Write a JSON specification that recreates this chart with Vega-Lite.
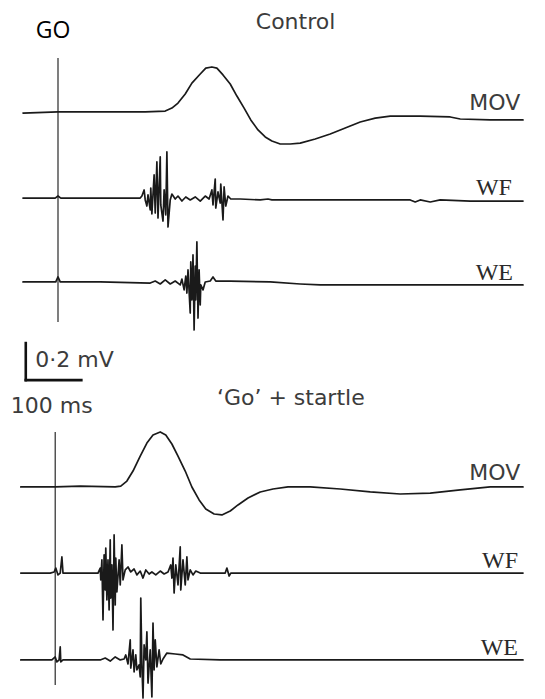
{
  "$schema": "https://vega.github.io/schema/vega-lite/v6.json",
  "width": 545,
  "height": 699,
  "autosize": {"type": "fit", "contains": "padding"},
  "padding": 0,
  "background": "white",
  "config": {"view": {"stroke": null}},
  "datasets": {
    "traces": [
      {"trace": "Control MOV", "t": -63, "mV": 3.164},
      {"trace": "Control MOV", "t": 0, "mV": 3.170},
      {"trace": "Control MOV", "t": 76, "mV": 3.170},
      {"trace": "Control MOV", "t": 157, "mV": 3.170},
      {"trace": "Control MOV", "t": 193, "mV": 3.175},
      {"trace": "Control MOV", "t": 205, "mV": 3.191},
      {"trace": "Control MOV", "t": 216, "mV": 3.218},
      {"trace": "Control MOV", "t": 229, "mV": 3.267},
      {"trace": "Control MOV", "t": 241, "mV": 3.326},
      {"trace": "Control MOV", "t": 256, "mV": 3.375},
      {"trace": "Control MOV", "t": 266, "mV": 3.407},
      {"trace": "Control MOV", "t": 277, "mV": 3.413},
      {"trace": "Control MOV", "t": 286, "mV": 3.407},
      {"trace": "Control MOV", "t": 297, "mV": 3.370},
      {"trace": "Control MOV", "t": 310, "mV": 3.321},
      {"trace": "Control MOV", "t": 322, "mV": 3.256},
      {"trace": "Control MOV", "t": 335, "mV": 3.191},
      {"trace": "Control MOV", "t": 347, "mV": 3.127},
      {"trace": "Control MOV", "t": 360, "mV": 3.073},
      {"trace": "Control MOV", "t": 373, "mV": 3.035},
      {"trace": "Control MOV", "t": 385, "mV": 3.013},
      {"trace": "Control MOV", "t": 400, "mV": 2.997},
      {"trace": "Control MOV", "t": 418, "mV": 2.997},
      {"trace": "Control MOV", "t": 436, "mV": 3.002},
      {"trace": "Control MOV", "t": 463, "mV": 3.024},
      {"trace": "Control MOV", "t": 490, "mV": 3.051},
      {"trace": "Control MOV", "t": 517, "mV": 3.083},
      {"trace": "Control MOV", "t": 544, "mV": 3.116},
      {"trace": "Control MOV", "t": 571, "mV": 3.137},
      {"trace": "Control MOV", "t": 598, "mV": 3.148},
      {"trace": "Control MOV", "t": 652, "mV": 3.148},
      {"trace": "Control MOV", "t": 706, "mV": 3.143},
      {"trace": "Control MOV", "t": 724, "mV": 3.132},
      {"trace": "Control MOV", "t": 778, "mV": 3.127},
      {"trace": "Control MOV", "t": 837, "mV": 3.127},

      {"trace": "Control WF", "t": -63, "mV": 2.705},
      {"trace": "Control WF", "t": -5, "mV": 2.705},
      {"trace": "Control WF", "t": 0, "mV": 2.716},
      {"trace": "Control WF", "t": 5, "mV": 2.705},
      {"trace": "Control WF", "t": 76, "mV": 2.705},
      {"trace": "Control WF", "t": 148, "mV": 2.705},
      {"trace": "Control WF", "t": 151, "mV": 2.716},
      {"trace": "Control WF", "t": 155, "mV": 2.749},
      {"trace": "Control WF", "t": 157, "mV": 2.695},
      {"trace": "Control WF", "t": 160, "mV": 2.662},
      {"trace": "Control WF", "t": 162, "mV": 2.722},
      {"trace": "Control WF", "t": 166, "mV": 2.641},
      {"trace": "Control WF", "t": 167, "mV": 2.759},
      {"trace": "Control WF", "t": 169, "mV": 2.619},
      {"trace": "Control WF", "t": 173, "mV": 2.830},
      {"trace": "Control WF", "t": 175, "mV": 2.624},
      {"trace": "Control WF", "t": 178, "mV": 2.900},
      {"trace": "Control WF", "t": 180, "mV": 2.597},
      {"trace": "Control WF", "t": 184, "mV": 2.927},
      {"trace": "Control WF", "t": 185, "mV": 2.668},
      {"trace": "Control WF", "t": 189, "mV": 2.581},
      {"trace": "Control WF", "t": 191, "mV": 2.749},
      {"trace": "Control WF", "t": 194, "mV": 2.614},
      {"trace": "Control WF", "t": 196, "mV": 2.954},
      {"trace": "Control WF", "t": 198, "mV": 2.549},
      {"trace": "Control WF", "t": 202, "mV": 2.695},
      {"trace": "Control WF", "t": 205, "mV": 2.727},
      {"trace": "Control WF", "t": 211, "mV": 2.700},
      {"trace": "Control WF", "t": 216, "mV": 2.716},
      {"trace": "Control WF", "t": 223, "mV": 2.689},
      {"trace": "Control WF", "t": 230, "mV": 2.711},
      {"trace": "Control WF", "t": 238, "mV": 2.695},
      {"trace": "Control WF", "t": 247, "mV": 2.711},
      {"trace": "Control WF", "t": 256, "mV": 2.689},
      {"trace": "Control WF", "t": 265, "mV": 2.716},
      {"trace": "Control WF", "t": 272, "mV": 2.700},
      {"trace": "Control WF", "t": 277, "mV": 2.749},
      {"trace": "Control WF", "t": 279, "mV": 2.668},
      {"trace": "Control WF", "t": 283, "mV": 2.808},
      {"trace": "Control WF", "t": 284, "mV": 2.651},
      {"trace": "Control WF", "t": 288, "mV": 2.738},
      {"trace": "Control WF", "t": 292, "mV": 2.678},
      {"trace": "Control WF", "t": 293, "mV": 2.781},
      {"trace": "Control WF", "t": 297, "mV": 2.587},
      {"trace": "Control WF", "t": 299, "mV": 2.765},
      {"trace": "Control WF", "t": 302, "mV": 2.662},
      {"trace": "Control WF", "t": 306, "mV": 2.716},
      {"trace": "Control WF", "t": 311, "mV": 2.700},
      {"trace": "Control WF", "t": 328, "mV": 2.700},
      {"trace": "Control WF", "t": 364, "mV": 2.695},
      {"trace": "Control WF", "t": 378, "mV": 2.700},
      {"trace": "Control WF", "t": 385, "mV": 2.695},
      {"trace": "Control WF", "t": 418, "mV": 2.695},
      {"trace": "Control WF", "t": 508, "mV": 2.695},
      {"trace": "Control WF", "t": 634, "mV": 2.695},
      {"trace": "Control WF", "t": 643, "mV": 2.684},
      {"trace": "Control WF", "t": 652, "mV": 2.695},
      {"trace": "Control WF", "t": 670, "mV": 2.684},
      {"trace": "Control WF", "t": 688, "mV": 2.695},
      {"trace": "Control WF", "t": 742, "mV": 2.689},
      {"trace": "Control WF", "t": 837, "mV": 2.689},

      {"trace": "Control WE", "t": -63, "mV": 2.252},
      {"trace": "Control WE", "t": -4, "mV": 2.252},
      {"trace": "Control WE", "t": 0, "mV": 2.279},
      {"trace": "Control WE", "t": 4, "mV": 2.252},
      {"trace": "Control WE", "t": 76, "mV": 2.252},
      {"trace": "Control WE", "t": 166, "mV": 2.246},
      {"trace": "Control WE", "t": 175, "mV": 2.257},
      {"trace": "Control WE", "t": 184, "mV": 2.241},
      {"trace": "Control WE", "t": 193, "mV": 2.263},
      {"trace": "Control WE", "t": 202, "mV": 2.241},
      {"trace": "Control WE", "t": 211, "mV": 2.257},
      {"trace": "Control WE", "t": 220, "mV": 2.236},
      {"trace": "Control WE", "t": 223, "mV": 2.268},
      {"trace": "Control WE", "t": 227, "mV": 2.209},
      {"trace": "Control WE", "t": 230, "mV": 2.284},
      {"trace": "Control WE", "t": 232, "mV": 2.192},
      {"trace": "Control WE", "t": 234, "mV": 2.317},
      {"trace": "Control WE", "t": 238, "mV": 2.084},
      {"trace": "Control WE", "t": 239, "mV": 2.360},
      {"trace": "Control WE", "t": 241, "mV": 2.155},
      {"trace": "Control WE", "t": 243, "mV": 2.398},
      {"trace": "Control WE", "t": 245, "mV": 1.993},
      {"trace": "Control WE", "t": 247, "mV": 2.338},
      {"trace": "Control WE", "t": 248, "mV": 2.155},
      {"trace": "Control WE", "t": 250, "mV": 2.468},
      {"trace": "Control WE", "t": 252, "mV": 2.057},
      {"trace": "Control WE", "t": 254, "mV": 2.317},
      {"trace": "Control WE", "t": 256, "mV": 2.128},
      {"trace": "Control WE", "t": 257, "mV": 2.236},
      {"trace": "Control WE", "t": 261, "mV": 2.209},
      {"trace": "Control WE", "t": 265, "mV": 2.252},
      {"trace": "Control WE", "t": 274, "mV": 2.257},
      {"trace": "Control WE", "t": 279, "mV": 2.279},
      {"trace": "Control WE", "t": 284, "mV": 2.257},
      {"trace": "Control WE", "t": 310, "mV": 2.257},
      {"trace": "Control WE", "t": 382, "mV": 2.252},
      {"trace": "Control WE", "t": 436, "mV": 2.241},
      {"trace": "Control WE", "t": 472, "mV": 2.236},
      {"trace": "Control WE", "t": 837, "mV": 2.236},

      {"trace": "Startle MOV", "t": -67, "mV": 1.145},
      {"trace": "Startle MOV", "t": -5, "mV": 1.145},
      {"trace": "Startle MOV", "t": 40, "mV": 1.150},
      {"trace": "Startle MOV", "t": 103, "mV": 1.145},
      {"trace": "Startle MOV", "t": 113, "mV": 1.150},
      {"trace": "Startle MOV", "t": 124, "mV": 1.177},
      {"trace": "Startle MOV", "t": 135, "mV": 1.231},
      {"trace": "Startle MOV", "t": 148, "mV": 1.312},
      {"trace": "Startle MOV", "t": 160, "mV": 1.382},
      {"trace": "Startle MOV", "t": 171, "mV": 1.426},
      {"trace": "Startle MOV", "t": 184, "mV": 1.442},
      {"trace": "Startle MOV", "t": 194, "mV": 1.426},
      {"trace": "Startle MOV", "t": 205, "mV": 1.377},
      {"trace": "Startle MOV", "t": 216, "mV": 1.312},
      {"trace": "Startle MOV", "t": 229, "mV": 1.231},
      {"trace": "Startle MOV", "t": 241, "mV": 1.145},
      {"trace": "Startle MOV", "t": 254, "mV": 1.075},
      {"trace": "Startle MOV", "t": 266, "mV": 1.026},
      {"trace": "Startle MOV", "t": 281, "mV": 0.999},
      {"trace": "Startle MOV", "t": 295, "mV": 0.994},
      {"trace": "Startle MOV", "t": 310, "mV": 1.015},
      {"trace": "Startle MOV", "t": 324, "mV": 1.048},
      {"trace": "Startle MOV", "t": 342, "mV": 1.085},
      {"trace": "Startle MOV", "t": 364, "mV": 1.118},
      {"trace": "Startle MOV", "t": 387, "mV": 1.134},
      {"trace": "Startle MOV", "t": 414, "mV": 1.145},
      {"trace": "Startle MOV", "t": 454, "mV": 1.145},
      {"trace": "Startle MOV", "t": 508, "mV": 1.134},
      {"trace": "Startle MOV", "t": 562, "mV": 1.118},
      {"trace": "Startle MOV", "t": 616, "mV": 1.107},
      {"trace": "Startle MOV", "t": 670, "mV": 1.112},
      {"trace": "Startle MOV", "t": 724, "mV": 1.129},
      {"trace": "Startle MOV", "t": 778, "mV": 1.145},
      {"trace": "Startle MOV", "t": 837, "mV": 1.145},

      {"trace": "Startle WF", "t": -67, "mV": 0.680},
      {"trace": "Startle WF", "t": -14, "mV": 0.680},
      {"trace": "Startle WF", "t": -7, "mV": 0.686},
      {"trace": "Startle WF", "t": -4, "mV": 0.707},
      {"trace": "Startle WF", "t": 0, "mV": 0.670},
      {"trace": "Startle WF", "t": 4, "mV": 0.680},
      {"trace": "Startle WF", "t": 7, "mV": 0.767},
      {"trace": "Startle WF", "t": 9, "mV": 0.680},
      {"trace": "Startle WF", "t": 14, "mV": 0.680},
      {"trace": "Startle WF", "t": 72, "mV": 0.680},
      {"trace": "Startle WF", "t": 76, "mV": 0.707},
      {"trace": "Startle WF", "t": 77, "mV": 0.643},
      {"trace": "Startle WF", "t": 79, "mV": 0.751},
      {"trace": "Startle WF", "t": 81, "mV": 0.427},
      {"trace": "Startle WF", "t": 83, "mV": 0.778},
      {"trace": "Startle WF", "t": 85, "mV": 0.589},
      {"trace": "Startle WF", "t": 86, "mV": 0.815},
      {"trace": "Startle WF", "t": 88, "mV": 0.535},
      {"trace": "Startle WF", "t": 90, "mV": 0.751},
      {"trace": "Startle WF", "t": 92, "mV": 0.481},
      {"trace": "Startle WF", "t": 94, "mV": 0.859},
      {"trace": "Startle WF", "t": 95, "mV": 0.545},
      {"trace": "Startle WF", "t": 97, "mV": 0.724},
      {"trace": "Startle WF", "t": 99, "mV": 0.373},
      {"trace": "Startle WF", "t": 101, "mV": 0.886},
      {"trace": "Startle WF", "t": 103, "mV": 0.508},
      {"trace": "Startle WF", "t": 104, "mV": 0.761},
      {"trace": "Startle WF", "t": 106, "mV": 0.578},
      {"trace": "Startle WF", "t": 110, "mV": 0.751},
      {"trace": "Startle WF", "t": 112, "mV": 0.616},
      {"trace": "Startle WF", "t": 115, "mV": 0.832},
      {"trace": "Startle WF", "t": 117, "mV": 0.643},
      {"trace": "Startle WF", "t": 121, "mV": 0.697},
      {"trace": "Startle WF", "t": 126, "mV": 0.713},
      {"trace": "Startle WF", "t": 131, "mV": 0.686},
      {"trace": "Startle WF", "t": 137, "mV": 0.702},
      {"trace": "Startle WF", "t": 142, "mV": 0.670},
      {"trace": "Startle WF", "t": 148, "mV": 0.691},
      {"trace": "Startle WF", "t": 153, "mV": 0.653},
      {"trace": "Startle WF", "t": 158, "mV": 0.697},
      {"trace": "Startle WF", "t": 164, "mV": 0.675},
      {"trace": "Startle WF", "t": 169, "mV": 0.686},
      {"trace": "Startle WF", "t": 176, "mV": 0.670},
      {"trace": "Startle WF", "t": 184, "mV": 0.691},
      {"trace": "Startle WF", "t": 191, "mV": 0.675},
      {"trace": "Startle WF", "t": 198, "mV": 0.686},
      {"trace": "Startle WF", "t": 203, "mV": 0.724},
      {"trace": "Startle WF", "t": 205, "mV": 0.653},
      {"trace": "Startle WF", "t": 207, "mV": 0.761},
      {"trace": "Startle WF", "t": 209, "mV": 0.572},
      {"trace": "Startle WF", "t": 212, "mV": 0.724},
      {"trace": "Startle WF", "t": 216, "mV": 0.616},
      {"trace": "Startle WF", "t": 220, "mV": 0.821},
      {"trace": "Startle WF", "t": 221, "mV": 0.589},
      {"trace": "Startle WF", "t": 225, "mV": 0.751},
      {"trace": "Startle WF", "t": 229, "mV": 0.616},
      {"trace": "Startle WF", "t": 232, "mV": 0.767},
      {"trace": "Startle WF", "t": 234, "mV": 0.643},
      {"trace": "Startle WF", "t": 238, "mV": 0.697},
      {"trace": "Startle WF", "t": 243, "mV": 0.670},
      {"trace": "Startle WF", "t": 248, "mV": 0.691},
      {"trace": "Startle WF", "t": 256, "mV": 0.680},
      {"trace": "Startle WF", "t": 301, "mV": 0.680},
      {"trace": "Startle WF", "t": 304, "mV": 0.707},
      {"trace": "Startle WF", "t": 308, "mV": 0.664},
      {"trace": "Startle WF", "t": 311, "mV": 0.680},
      {"trace": "Startle WF", "t": 837, "mV": 0.680},

      {"trace": "Startle WE", "t": -67, "mV": 0.211},
      {"trace": "Startle WE", "t": -11, "mV": 0.211},
      {"trace": "Startle WE", "t": -5, "mV": 0.227},
      {"trace": "Startle WE", "t": -2, "mV": 0.200},
      {"trace": "Startle WE", "t": 2, "mV": 0.211},
      {"trace": "Startle WE", "t": 4, "mV": 0.281},
      {"trace": "Startle WE", "t": 5, "mV": 0.200},
      {"trace": "Startle WE", "t": 9, "mV": 0.211},
      {"trace": "Startle WE", "t": 76, "mV": 0.211},
      {"trace": "Startle WE", "t": 85, "mV": 0.221},
      {"trace": "Startle WE", "t": 94, "mV": 0.205},
      {"trace": "Startle WE", "t": 103, "mV": 0.227},
      {"trace": "Startle WE", "t": 112, "mV": 0.211},
      {"trace": "Startle WE", "t": 119, "mV": 0.216},
      {"trace": "Startle WE", "t": 122, "mV": 0.238},
      {"trace": "Startle WE", "t": 126, "mV": 0.189},
      {"trace": "Startle WE", "t": 130, "mV": 0.319},
      {"trace": "Startle WE", "t": 131, "mV": 0.167},
      {"trace": "Startle WE", "t": 135, "mV": 0.265},
      {"trace": "Startle WE", "t": 137, "mV": 0.146},
      {"trace": "Startle WE", "t": 140, "mV": 0.238},
      {"trace": "Startle WE", "t": 142, "mV": 0.157},
      {"trace": "Startle WE", "t": 146, "mV": 0.184},
      {"trace": "Startle WE", "t": 148, "mV": 0.119},
      {"trace": "Startle WE", "t": 149, "mV": 0.545},
      {"trace": "Startle WE", "t": 151, "mV": 0.184},
      {"trace": "Startle WE", "t": 153, "mV": 0.005},
      {"trace": "Startle WE", "t": 155, "mV": 0.292},
      {"trace": "Startle WE", "t": 158, "mV": 0.211},
      {"trace": "Startle WE", "t": 160, "mV": 0.362},
      {"trace": "Startle WE", "t": 162, "mV": 0.086},
      {"trace": "Startle WE", "t": 166, "mV": 0.265},
      {"trace": "Startle WE", "t": 169, "mV": 0.011},
      {"trace": "Startle WE", "t": 171, "mV": 0.410},
      {"trace": "Startle WE", "t": 173, "mV": 0.157},
      {"trace": "Startle WE", "t": 175, "mV": 0.319},
      {"trace": "Startle WE", "t": 178, "mV": 0.173},
      {"trace": "Startle WE", "t": 182, "mV": 0.265},
      {"trace": "Startle WE", "t": 185, "mV": 0.189},
      {"trace": "Startle WE", "t": 189, "mV": 0.216},
      {"trace": "Startle WE", "t": 196, "mV": 0.248},
      {"trace": "Startle WE", "t": 211, "mV": 0.243},
      {"trace": "Startle WE", "t": 225, "mV": 0.238},
      {"trace": "Startle WE", "t": 238, "mV": 0.216},
      {"trace": "Startle WE", "t": 292, "mV": 0.211},
      {"trace": "Startle WE", "t": 837, "mV": 0.211}
    ],
    "go_markers": [
      {"panel": "Control", "t": 0, "mV": 3.461, "mV2": 2.036},
      {"panel": "Startle", "t": -5, "mV": 1.442, "mV2": 0.076}
    ],
    "scale_bar": [
      {"part": "voltage", "t": -58, "t2": -58, "mV": 1.722, "mV2": 1.922},
      {"part": "time", "t": -58, "t2": 42, "mV": 1.722, "mV2": 1.722}
    ],
    "notes": [
      {"kind": "go", "text": "GO", "t": -40, "mV": 3.569},
      {"kind": "title", "text": "Control", "t": 356, "mV": 3.618},
      {"kind": "title", "text": "‘Go’ + startle", "t": 286, "mV": 1.588},
      {"kind": "scale", "text": "0·2 mV", "t": -41, "mV": 1.793},
      {"kind": "scale", "text": "100 ms", "t": -85, "mV": 1.544},
      {"kind": "lead", "text": "MOV", "t": 832, "mV": 3.181},
      {"kind": "lead", "text": "MOV", "t": 832, "mV": 1.183},
      {"kind": "muscle", "text": "WF", "t": 817, "mV": 2.722},
      {"kind": "muscle", "text": "WE", "t": 819, "mV": 2.263},
      {"kind": "muscle", "text": "WF", "t": 828, "mV": 0.707},
      {"kind": "muscle", "text": "WE", "t": 828, "mV": 0.238}
    ]
  },
  "encoding": {
    "x": {"field": "t", "type": "quantitative", "scale": {"domain": [-104.4, 876.6], "nice": false, "zero": false}, "axis": null},
    "y": {"field": "mV", "type": "quantitative", "scale": {"domain": [0, 3.7746], "nice": false, "zero": false}, "axis": null}
  },
  "layer": [
    {
      "data": {"name": "go_markers"},
      "mark": {"type": "rule", "color": "#3a3a3a", "strokeWidth": 1.3},
      "encoding": {"y2": {"field": "mV2"}}
    },
    {
      "data": {"name": "traces"},
      "mark": {"type": "line", "color": "#1a1a1a", "strokeWidth": 1.7, "strokeJoin": "round", "strokeCap": "round"},
      "encoding": {"detail": {"field": "trace"}}
    },
    {
      "data": {"name": "scale_bar"},
      "mark": {"type": "rule", "color": "#111111", "strokeWidth": 2.6, "strokeCap": "square"},
      "encoding": {"x2": {"field": "t2"}, "y2": {"field": "mV2"}}
    },
    {
      "data": {"name": "notes"},
      "transform": [{"filter": "datum.kind === 'go'"}],
      "mark": {"type": "text", "font": "Open Sans", "fontSize": 23, "color": "#000000", "align": "left", "baseline": "alphabetic"},
      "encoding": {"text": {"field": "text"}}
    },
    {
      "data": {"name": "notes"},
      "transform": [{"filter": "datum.kind === 'title' || datum.kind === 'scale'"}],
      "mark": {"type": "text", "font": "DejaVu Sans", "fontSize": 22, "color": "#3c3c3c", "align": "left", "baseline": "alphabetic"},
      "encoding": {"text": {"field": "text"}}
    },
    {
      "data": {"name": "notes"},
      "transform": [{"filter": "datum.kind === 'lead'"}],
      "mark": {"type": "text", "font": "DejaVu Sans", "fontSize": 22, "color": "#3c3c3c", "align": "right", "baseline": "alphabetic"},
      "encoding": {"text": {"field": "text"}}
    },
    {
      "data": {"name": "notes"},
      "transform": [{"filter": "datum.kind === 'muscle'"}],
      "mark": {"type": "text", "font": "Liberation Serif", "fontSize": 24, "color": "#2a2a2a", "align": "right", "baseline": "alphabetic"},
      "encoding": {"text": {"field": "text"}}
    }
  ]
}
